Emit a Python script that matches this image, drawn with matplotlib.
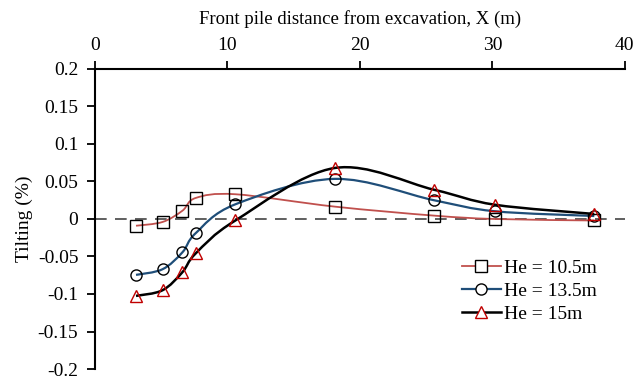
import numpy as np
import matplotlib
matplotlib.use("Agg")
import matplotlib.pyplot as plt
from matplotlib.path import Path
from matplotlib.patches import PathPatch
from matplotlib.lines import Line2D

plt.rcParams['font.family'] = ['Liberation Serif', 'DejaVu Serif']

x = [3.1, 5.1, 6.6, 7.6, 10.6, 18.1, 25.6, 30.2, 37.7]
tilt_105 = [-0.009, -0.004, 0.011, 0.028, 0.033, 0.0165, 0.0045, 0.0, -0.002]
tilt_135 = [-0.0745, -0.067, -0.0445, -0.019, 0.0196, 0.0535, 0.025, 0.0103, 0.004]
tilt_150 = [-0.1025, -0.095, -0.071, -0.046, -0.002, 0.068, 0.039, 0.019, 0.0067]
labels = ['He = 10.5m', 'He = 13.5m', 'He = 15m']


def smooth_path(xs, ys):
    # Excel-like smoothed line: cubic bezier with catmull-rom control points
    p = np.column_stack([xs, ys])
    n = len(p)
    verts = [p[0]]
    codes = [Path.MOVETO]
    for i in range(n - 1):
        p0 = p[i - 1] if i > 0 else p[i]
        p3 = p[i + 2] if i + 2 < n else p[i + 1]
        c1 = p[i] + (p[i + 1] - p0) / 6
        c2 = p[i + 1] - (p3 - p[i]) / 6
        verts += [c1, c2, p[i + 1]]
        codes += [Path.CURVE4] * 3
    return Path(verts, codes)


fig = plt.figure(figsize=(6.33, 3.78), dpi=100)
ax = fig.add_axes([0.150, 0.0238, 0.837, 0.7937])

series = [
    (tilt_105, '#C0504D', 1.3, 's', 'k'),
    (tilt_135, '#1F4E79', 1.6, 'o', 'k'),
    (tilt_150, 'black', 1.8, '^', '#C00000'),
]
handles = []
for ys, lc, lw, mk, mc in series:
    ax.add_patch(PathPatch(smooth_path(x, ys), fill=False, edgecolor=lc, lw=lw, zorder=3))
    ax.plot(x, ys, ls='none', marker=mk, ms=8, mfc='none', mec=mc, mew=1.0, zorder=4)
    handles.append(Line2D([], [], color=lc, lw=lw, marker=mk, ms=8, mfc='white',
                          mec=mc, mew=1.0))

ax.axhline(0, color='#444444', lw=1.2, ls=(0, (7, 5)), zorder=2)

ax.set_xlim(0, 40)
ax.set_ylim(-0.2, 0.2)
ax.set_xticks([0, 10, 20, 30, 40])
ax.set_yticks(np.arange(-0.2, 0.201, 0.05))
ax.set_yticklabels(['-0.2', '-0.15', '-0.1', '-0.05', '0', '0.05', '0.1', '0.15', '0.2'])
ax.xaxis.tick_top()
ax.xaxis.set_label_position('top')
for s in ['bottom', 'right']:
    ax.spines[s].set_visible(False)
for s in ['top', 'left']:
    ax.spines[s].set_linewidth(1.5)
ax.tick_params(axis='both', direction='out', length=6, width=1.3, labelsize=14)
ax.tick_params(axis='x', pad=5)
ax.tick_params(axis='y', pad=6)
ax.set_xlabel('Front pile distance from excavation, X (m)', fontsize=13.5, labelpad=9)
ax.set_ylabel('Tilting (%)', fontsize=14, labelpad=3)

ax.legend(handles, labels, loc='lower right', bbox_to_anchor=(0.98, 0.095), frameon=False,
          fontsize=14, handlelength=2.0, handletextpad=0.15, labelspacing=0.27)

fig.savefig('out.png', dpi=100)
